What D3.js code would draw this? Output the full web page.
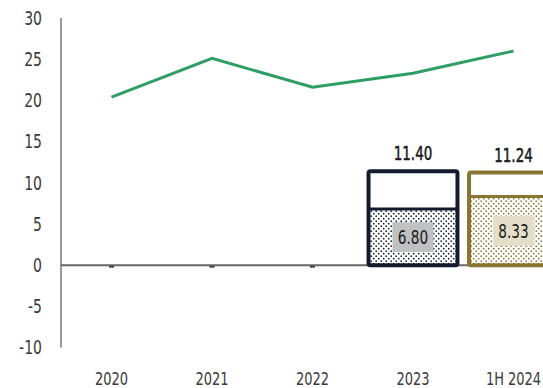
<!DOCTYPE html>
<html>
<head>
<meta charset="utf-8">
<script src="https://cdn.jsdelivr.net/npm/d3@7/dist/d3.min.js"></script>
<style>
  body { margin: 0; background: #fff; }
  text { font-family: "DejaVu Sans", sans-serif; font-stretch: condensed; }
</style>
</head>
<body>
<div id="chart"></div>
<script>
// Data
const categories = ["2020", "2021", "2022", "2023", "1H 2024"];
const lineValues = [20.4, 25.1, 21.6, 23.3, 26.0];
const totalValues = [0, 0, 0, 11.40, 11.24];
const innerValues = [0, 0, 0, 6.80, 8.33];
const yTicks = [-10, -5, 0, 5, 10, 15, 20, 25, 30];

// Colours per bar
const barColor = ["#141b2d", "#141b2d", "#141b2d", "#141b2d", "#8a7432"];
const labelFill = ["#c0c1c3", "#c0c1c3", "#c0c1c3", "#c0c1c3", "#e4ddc7"];

const width = 543, height = 388;

const x = d3.scaleBand()
    .domain(categories)
    .range([61, 564])
    .paddingInner(0.115)
    .paddingOuter(0.06);

const y = d3.scaleLinear()
    .domain([-10, 30])
    .range([347.5, 18]);

const svg = d3.select("#chart")
  .append("svg")
    .attr("width", width)
    .attr("height", height);

// position + horizontal squeeze so the font looks narrow like the original
function at(px, py, sx) {
  return "translate(" + px + "," + py + ") scale(" + sx + ",1)";
}

// dotted patterns
const defs = svg.append("defs");
["#141b2d", "#8a7432"].forEach(function(c, i) {
  const p = defs.append("pattern")
      .attr("id", "dots" + i)
      .attr("width", 5).attr("height", 5)
      .attr("patternUnits", "userSpaceOnUse");
  p.append("rect").attr("width", 5).attr("height", 5).attr("fill", "#fff");
  p.append("circle").attr("cx", 1.2).attr("cy", 1.2).attr("r", 0.85).attr("fill", c);
  p.append("circle").attr("cx", 3.7).attr("cy", 3.7).attr("r", 0.85).attr("fill", c);
});

// y axis labels
svg.selectAll(".ytick")
  .data(yTicks)
  .enter().append("text")
    .attr("class", "ytick")
    .attr("transform", function(d) { return at(42, y(d), 0.82); })
    .attr("dy", "0.36em")
    .attr("text-anchor", "end")
    .attr("font-size", 19)
    .attr("fill", "#3a3a3a")
    .text(function(d) { return d; });

// y axis line
svg.append("line")
    .attr("x1", 61).attr("x2", 61)
    .attr("y1", y(30)).attr("y2", y(-10))
    .attr("stroke", "#777").attr("stroke-width", 1.5);

// x labels
svg.selectAll(".xlab")
  .data(categories)
  .enter().append("text")
    .attr("class", "xlab")
    .attr("transform", function(d) { return at(x(d) + x.bandwidth() / 2, 385, 0.85); })
    .attr("text-anchor", "middle")
    .attr("font-size", 17)
    .attr("fill", "#3a3a3a")
    .text(function(d) { return d; });

const bars = categories.map(function(c, i) {
  return {cat: c, total: totalValues[i], inner: innerValues[i], i: i};
});

// zero-value markers
svg.selectAll(".zero")
  .data(bars.filter(function(d) { return d.total === 0; }))
  .enter().append("rect")
    .attr("class", "zero")
    .attr("x", function(d) { return x(d.cat) + x.bandwidth() / 2 - 2.5; })
    .attr("y", y(0))
    .attr("width", 5).attr("height", 2.5)
    .attr("fill", "#333");

const realBars = bars.filter(function(d) { return d.total > 0; });

// lower dotted segment
svg.selectAll(".inner")
  .data(realBars)
  .enter().append("rect")
    .attr("class", "inner")
    .attr("x", function(d) { return x(d.cat); })
    .attr("y", function(d) { return y(d.inner); })
    .attr("width", x.bandwidth())
    .attr("height", function(d) { return y(0) - y(d.inner); })
    .attr("fill", function(d) { return d.i === 4 ? "url(#dots1)" : "url(#dots0)"; });

// zero line
svg.append("line")
    .attr("x1", 61).attr("x2", width)
    .attr("y1", y(0)).attr("y2", y(0))
    .attr("stroke", "#666").attr("stroke-width", 2);

// divider lines
svg.selectAll(".divider")
  .data(realBars)
  .enter().append("line")
    .attr("class", "divider")
    .attr("x1", function(d) { return x(d.cat); })
    .attr("x2", function(d) { return x(d.cat) + x.bandwidth(); })
    .attr("y1", function(d) { return y(d.inner); })
    .attr("y2", function(d) { return y(d.inner); })
    .attr("stroke", function(d) { return barColor[d.i]; })
    .attr("stroke-width", 3);

// outer frames
svg.selectAll(".frame")
  .data(realBars)
  .enter().append("rect")
    .attr("class", "frame")
    .attr("x", function(d) { return x(d.cat); })
    .attr("y", function(d) { return y(d.total); })
    .attr("width", x.bandwidth())
    .attr("height", function(d) { return y(0) - y(d.total); })
    .attr("rx", 2)
    .attr("fill", "none")
    .attr("stroke", function(d) { return barColor[d.i]; })
    .attr("stroke-width", 4);

// inner value label boxes
const lab = svg.selectAll(".ilab")
  .data(realBars)
  .enter().append("g")
    .attr("class", "ilab")
    .attr("transform", function(d) {
      return "translate(" + (x(d.cat) + x.bandwidth() / 2) + "," + ((y(d.inner) + y(0)) / 2) + ")";
    });
lab.append("rect")
    .attr("x", -20.5).attr("y", -15)
    .attr("width", 41).attr("height", 30)
    .attr("fill", function(d) { return labelFill[d.i]; });
lab.append("text")
    .attr("transform", "scale(0.8,1)")
    .attr("text-anchor", "middle")
    .attr("dy", "0.36em")
    .attr("font-size", 19)
    .attr("fill", "#1a1a1a")
    .text(function(d) { return d.inner.toFixed(2); });

// total labels
svg.selectAll(".tlab")
  .data(realBars)
  .enter().append("text")
    .attr("class", "tlab")
    .attr("transform", function(d) { return at(x(d.cat) + x.bandwidth() / 2, y(d.total) - 11, 0.75); })
    .attr("text-anchor", "middle")
    .attr("font-size", 20)
    .attr("fill", "#1a1a1a")
    .attr("stroke", "#1a1a1a")
    .attr("stroke-width", 0.5)
    .text(function(d) { return d.total.toFixed(2); });

// line series
const line = d3.line()
    .x(function(d, i) { return x(categories[i]) + x.bandwidth() / 2; })
    .y(function(d) { return y(d); });

svg.append("path")
    .datum(lineValues)
    .attr("d", line)
    .attr("fill", "none")
    .attr("stroke", "#2e9e64")
    .attr("stroke-width", 3);
</script>
</body>
</html>
